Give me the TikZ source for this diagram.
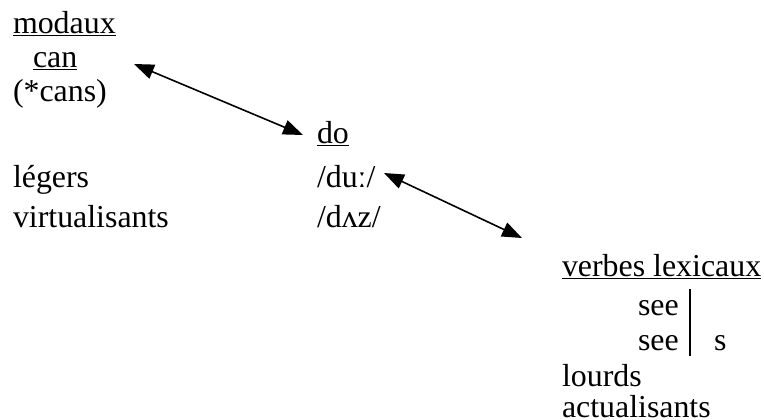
\documentclass[tikz,border=0pt]{standalone}
\usepackage{fontspec}
\setmainfont{Liberation Serif}
\usetikzlibrary{arrows.meta}
\tikzset{
  txt/.style={anchor=base west, inner sep=0pt, outer sep=0pt, font=\fontsize{32}{36}\selectfont},
  dblarrow/.style={line width=1.6pt, {Triangle[length=20pt,width=15pt]}-{Triangle[length=20pt,width=15pt]}},
  barline/.style={line width=1.8pt}
}
\begin{document}
\begin{tikzpicture}[x=1bp,y=-1bp]
\useasboundingbox (0,0) rectangle (764,419);
\node[txt] (modaux) at (13,33) {\underline{modaux}};
\node[txt] (can) at (33,67) {\underline{can}};
\node[txt] (cans) at (13,101) {(*cans)};
\node[txt] (legers) at (13,187) {légers};
\node[txt] (virt) at (13,227) {virtualisants};
\node[txt] (do) at (317,143) {\underline{do}};
\node[txt] (du) at (317,187) {/duː/};
\node[txt] (daz) at (317,227) {/dʌz/};
\node[txt] (verbes) at (562,276) {\underline{verbes lexicaux}};
\node[txt] (see1) at (638,315) {see};
\node[txt] (see2) at (638,350) {see};
\node[txt] (s) at (714,350) {s};
\node[txt] (lourds) at (562,386) {lourds};
\node[txt] (actu) at (562,417) {actualisants};
\coordinate (bartop) at (690,289);
\coordinate (barbot) at (690,356);
\draw[barline] (bartop) -- (barbot);
\coordinate (a1) at (134,64);
\coordinate (a2) at (303,135);
\coordinate (b1) at (384,173);
\coordinate (b2) at (522,238);
\draw[dblarrow] (a1) -- (a2);
\draw[dblarrow] (b1) -- (b2);
\end{tikzpicture}
\end{document}
